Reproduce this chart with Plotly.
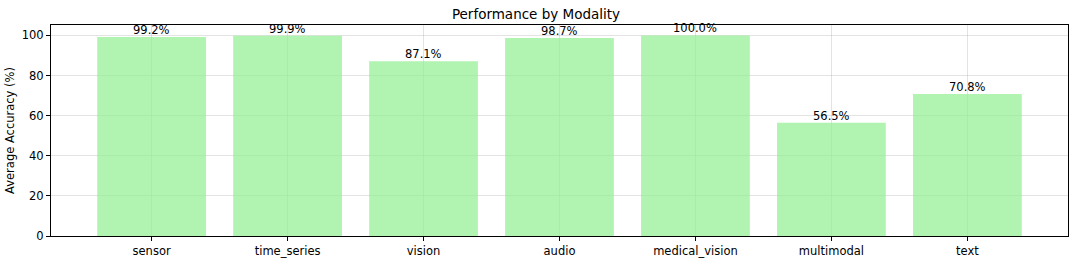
import plotly.graph_objects as go

categories = ["sensor", "time_series", "vision", "audio", "medical_vision", "multimodal", "text"]
accuracy = [99.2, 99.9, 87.1, 98.7, 100.0, 56.5, 70.8]
labels = [f"{v:.1f}%" for v in accuracy]
y_ticks = [0, 20, 40, 60, 80, 100]

font_family = "DejaVu Sans"

fig = go.Figure()
fig.add_trace(go.Bar(
    x=list(range(len(categories))),
    y=accuracy,
    width=0.8,
    marker=dict(color="rgba(144,238,144,0.7)", line=dict(width=0)),
    hoverinfo="skip",
))

for i, (v, t) in enumerate(zip(accuracy, labels)):
    fig.add_annotation(x=i, y=v, text=t, showarrow=False, yanchor="bottom",
                       yshift=-1, borderpad=0,
                       font=dict(family=font_family, size=11.5, color="black"))

fig.update_layout(
    width=1072, height=262,
    margin=dict(l=51, r=4, t=25, b=26, autoexpand=False),
    paper_bgcolor="white", plot_bgcolor="white",
    title=dict(text="Performance by Modality", x=0.5, xanchor="center",
               y=1 - 14/262, yanchor="middle",
               font=dict(family=font_family, size=13.5, color="black")),
    font=dict(family=font_family, size=11, color="black"),
    showlegend=False,
    bargap=0.2,
)

fig.update_xaxes(
    range=[-0.74, 6.74],
    tickmode="array", tickvals=list(range(len(categories))), ticktext=categories,
    showgrid=True, gridcolor="rgba(176,176,176,0.35)", gridwidth=1,
    ticks="outside", ticklen=4, tickcolor="black",
    showline=True, linecolor="black", linewidth=1, mirror=True,
    zeroline=False,
    tickfont=dict(family=font_family, size=11.5),
)
fig.update_yaxes(
    range=[0, 105.2],
    tickmode="array", tickvals=y_ticks,
    showgrid=True, gridcolor="rgba(176,176,176,0.35)", gridwidth=1,
    ticks="outside", ticklen=4, tickcolor="black",
    showline=True, linecolor="black", linewidth=1, mirror=True,
    zeroline=False,
    title=dict(text="Average Accuracy (%)", standoff=4, font=dict(family=font_family, size=11.5)),
    tickfont=dict(family=font_family, size=11.5),
)

fig.write_html("out.html", config={"displayModeBar": False},
               post_script="document.body.style.margin='0';")
